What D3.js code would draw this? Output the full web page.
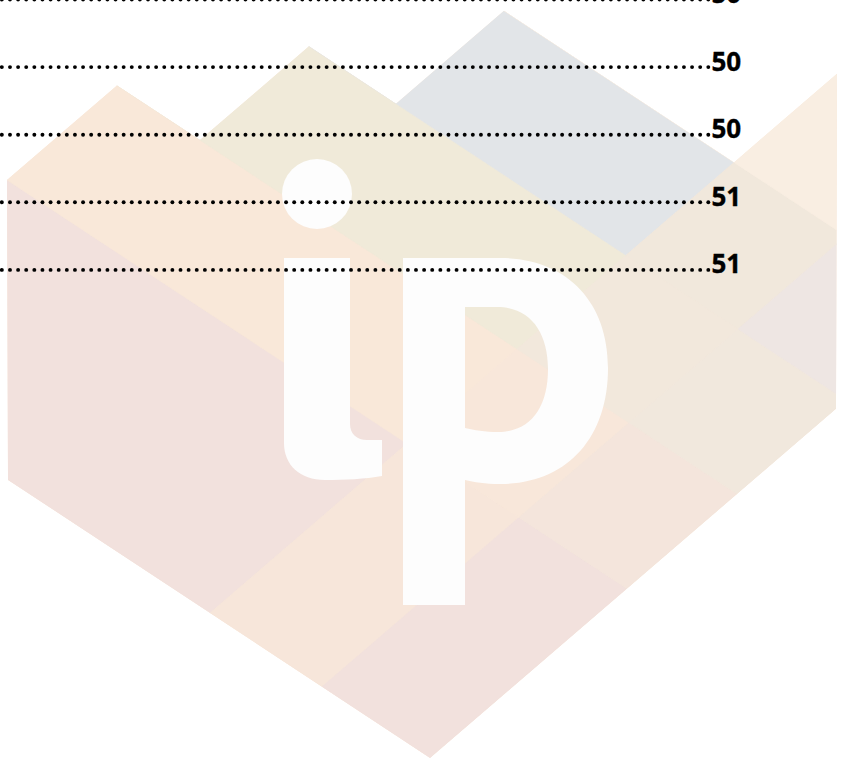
<!DOCTYPE html>
<html>
<head>
<meta charset="utf-8">
<script src="https://cdn.jsdelivr.net/npm/d3@7"></script>
<style>
  html, body { margin: 0; padding: 0; background: #fff; overflow: hidden; }
</style>
</head>
<body>
<script>
// Page numbers at the end of each leader row (the first row is cut by the top edge)
const rowIndex = [0, 1, 2, 3, 4];
const pageNumbers = ["50", "50", "50", "51", "51"];

// Watermark logo, laid out on a slanted grid:
// s runs up the lower-left edge, t runs up the lower-right edge
const sLines = [-700, -620, -537, -450, -220, -108, 0];
const tLines = [0, 197, 307, 416, 524, 627];
const outline = [[-620, 197], [-620, 307], [-537, 307], [-537, 416], [-450, 416], [-450, 524],
                 [-220, 524], [-220, 627], [0, 406], [0, 0], [-422, 0]];
// tiles: [s from, s to, t from, t to, colour]  (indices into sLines / tLines)
const tiles = [
  [0, 4, 0, 1, "#f2e1dd"], [4, 5, 0, 1, "#f7e6da"], [5, 6, 0, 1, "#f2e1dd"],
  [0, 4, 1, 2, "#f9e8d9"], [4, 5, 1, 2, "#f8e7da"], [5, 6, 1, 2, "#f4e5dc"],
  [0, 4, 2, 3, "#f0ead9"], [4, 5, 2, 3, "#f2e8dc"], [5, 6, 2, 3, "#f1e8dd"],
  [0, 4, 3, 4, "#e2e5e8"], [4, 5, 3, 4, "#f1e8dc"], [5, 6, 3, 4, "#eee6e3"],
  [0, 6, 4, 5, "#f9eee2"]
];

const width = 844, height = 761;

const svg = d3.select("body").append("svg")
    .attr("width", width)
    .attr("height", height);

// slanted grid -> page pixels
const origin = { x: 430, y: 758 };
const proj = ([s, t]) => [origin.x + s + t, origin.y + 0.659 * s - 0.86 * t];
const line = d3.line().x(d => proj(d)[0]).y(d => proj(d)[1]).curve(d3.curveLinearClosed);

svg.append("defs").append("clipPath")
    .attr("id", "logo-clip")
  .append("path")
    .attr("d", line(outline));

const logo = svg.append("g").attr("class", "watermark");

logo.append("path")
    .attr("d", line(outline))
    .attr("fill", "#f9e8d9");

logo.append("g")
    .attr("clip-path", "url(#logo-clip)")
  .selectAll("path")
  .data(tiles)
  .enter().append("path")
    .attr("d", d => {
      const s0 = sLines[d[0]], s1 = sLines[d[1]], t0 = tLines[d[2]], t1 = tLines[d[3]];
      return line([[s0, t0], [s1, t0], [s1, t1], [s0, t1]]);
    })
    .attr("fill", d => d[4])
    .attr("stroke", d => d[4])
    .attr("stroke-width", 0.6);

// the "ip" letters cut out in white
const letterFill = "#fdfdfd";
logo.append("circle")
    .attr("cx", 317).attr("cy", 194).attr("r", 35)
    .attr("fill", letterFill);
logo.append("path")
    .attr("d", "M284,258 H350 V424 C350,434 357,440 367,440 H382 V476 C365,479 345,480 325,480 C300,480 284,465 284,443 Z")
    .attr("fill", letterFill);
logo.append("path")
    .attr("fill-rule", "evenodd")
    .attr("d", "M403,258 H500 C565,258 608,300 608,368 C608,440 565,484 500,484 C485,484 474,482 465,480 V605 H403 Z " +
               "M465,307 H497 C530,307 548,332 548,369 C548,408 530,432 498,432 C485,432 474,430 465,428 Z")
    .attr("fill", letterFill);

// Leader rows
const y = d3.scalePoint()
    .domain(rowIndex)
    .range([-0.5, 269.9]);

const leaderEnd = 708.3, leaderStep = 8.12;
const dotX = d3.range(0, 88).map(k => leaderEnd - k * leaderStep);

const rows = svg.append("g").attr("class", "rows")
  .selectAll("g")
  .data(rowIndex)
  .enter().append("g")
    .attr("transform", d => `translate(0,${y(d)})`);

rows.selectAll("circle")
  .data(dotX)
  .enter().append("circle")
    .attr("cx", d => d)
    .attr("cy", 0)
    .attr("r", 1.95)
    .attr("fill", "#000");

rows.append("text")
    .attr("x", 711.5)
    .attr("y", 3.4)
    .attr("fill", "#000")
    .attr("stroke", "#000")
    .attr("stroke-width", 0.35)
    .style("font-family", "'Open Sans', 'Liberation Sans', sans-serif")
    .style("font-weight", 700)
    .style("font-size", "26px")
    .text(d => pageNumbers[d]);
</script>
</body>
</html>
